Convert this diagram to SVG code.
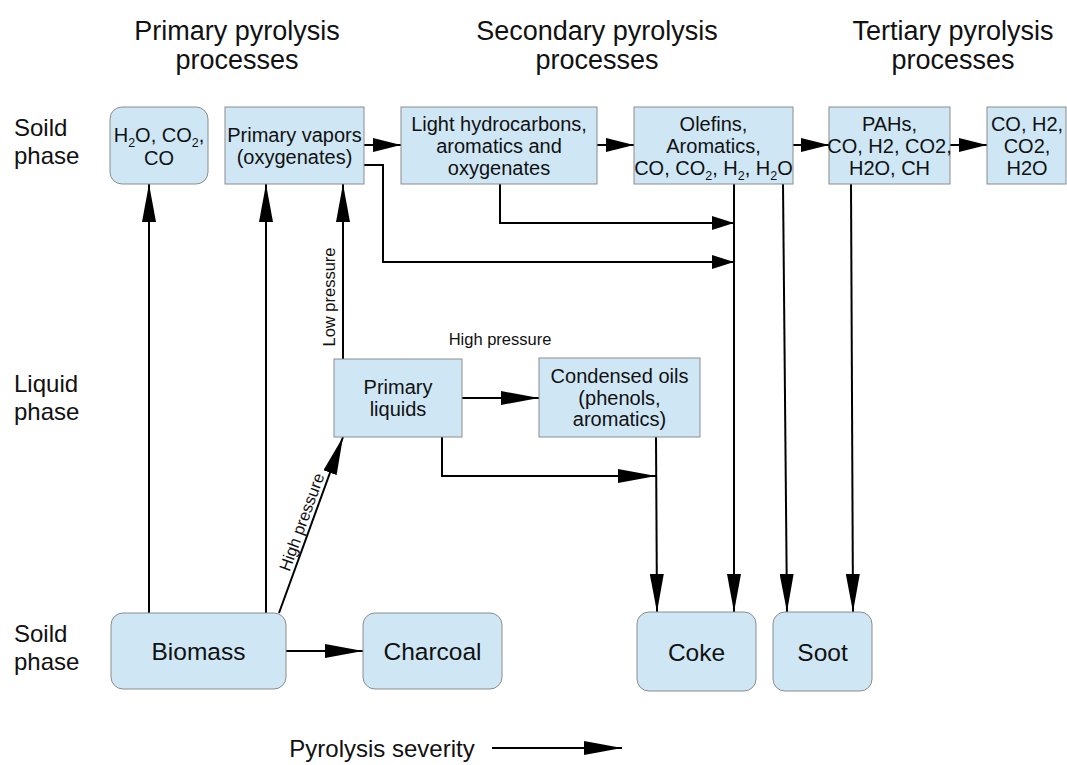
<svg xmlns="http://www.w3.org/2000/svg" width="1067" height="765" viewBox="0 0 1067 765">
<style>
text{font-family:"Liberation Sans",Arial,sans-serif;fill:#111}
.hd{font-size:27px;text-anchor:middle}
.ph{font-size:24px}
.bx{font-size:20px;text-anchor:middle}
.big{font-size:24.5px;text-anchor:middle}
.sm{font-size:16.5px;text-anchor:middle}
.sub{font-size:12.5px}
.n{fill:#cfe7f5;stroke:#8c8c8c;stroke-width:1}
.c{fill:none;stroke:#000;stroke-width:2}
.l{marker-end:url(#ah)}
.m{marker-end:url(#am)}
.s{marker-end:url(#as)}
</style>
<defs>
<marker id="ah" markerUnits="userSpaceOnUse" markerWidth="38" markerHeight="14" viewBox="0 0 38 14" refX="38" refY="7" orient="auto"><path d="M0,0L38,7L0,14z" fill="#000"/></marker>
<marker id="am" markerUnits="userSpaceOnUse" markerWidth="28" markerHeight="14" viewBox="0 0 28 14" refX="28" refY="7" orient="auto"><path d="M0,0L28,7L0,14z" fill="#000"/></marker>
<marker id="as" markerUnits="userSpaceOnUse" markerWidth="22" markerHeight="14" viewBox="0 0 22 14" refX="22" refY="7" orient="auto"><path d="M0,0L22,7L0,14z" fill="#000"/></marker>
</defs>
<rect width="1067" height="765" fill="#fff"/>
<g id="headers">
<text class="hd" x="237" y="40">Primary pyrolysis</text>
<text class="hd" x="237" y="69">processes</text>
<text class="hd" x="597" y="40">Secondary pyrolysis</text>
<text class="hd" x="597" y="69">processes</text>
<text class="hd" x="953" y="40">Tertiary pyrolysis</text>
<text class="hd" x="953" y="69">processes</text>
</g>
<g id="phase-labels">
<text class="ph" x="14" y="136">Soild</text>
<text class="ph" x="14" y="164">phase</text>
<text class="ph" x="14" y="392">Liquid</text>
<text class="ph" x="14" y="420">phase</text>
<text class="ph" x="14" y="642">Soild</text>
<text class="ph" x="14" y="670">phase</text>
</g>
<g id="connectors">
<line class="c l" x1="149" y1="613" x2="149" y2="184"/>
<line class="c l" x1="266" y1="613" x2="266" y2="184"/>
<line class="c l" x1="279" y1="613" x2="343" y2="437"/>
<line class="c l" x1="286" y1="651" x2="363" y2="651"/>
<line class="c l" x1="343" y1="359" x2="343" y2="184"/>
<line class="c l" x1="462" y1="398" x2="539" y2="398"/>
<polyline class="c l" points="442,437 442,476 656,476"/>
<line class="c l" x1="656" y1="437" x2="657" y2="612"/>
<line class="c m" x1="364" y1="145" x2="401" y2="145"/>
<polyline class="c s" points="364,165 383,165 383,262 734,262"/>
<polyline class="c s" points="500,184 500,223 734,223"/>
<line class="c m" x1="597" y1="145" x2="634" y2="145"/>
<line class="c l" x1="734" y1="184" x2="734" y2="612"/>
<line class="c l" x1="783" y1="184" x2="787" y2="612"/>
<line class="c m" x1="793" y1="145" x2="829" y2="145"/>
<line class="c m" x1="950" y1="145" x2="987" y2="145"/>
<line class="c l" x1="851" y1="184" x2="853" y2="612"/>
<line class="c l" x1="492" y1="748" x2="622" y2="748"/>
<text class="sm" x="0" y="0" transform="translate(335,297) rotate(-90)">Low pressure</text>
<text class="sm" x="500" y="345">High pressure</text>
<text class="sm" x="0" y="0" transform="translate(307,524) rotate(-70)">High pressure</text>
</g>
<g id="n-h2o">
<rect class="n" x="110" y="107" width="98" height="77" rx="12"/>
<text class="bx" x="159" y="142">H<tspan class="sub" dy="5">2</tspan><tspan dy="-5">O, CO</tspan><tspan class="sub" dy="5">2</tspan><tspan dy="-5">,</tspan></text>
<text class="bx" x="159" y="165">CO</text>
</g>
<g id="n-primary-vapors">
<rect class="n" x="225" y="107" width="139" height="77"/>
<text class="bx" x="294.5" y="141.5">Primary vapors</text>
<text class="bx" x="294.5" y="163.5">(oxygenates)</text>
</g>
<g id="n-light">
<rect class="n" x="401" y="107" width="196" height="77"/>
<text class="bx" x="499" y="130.5">Light hydrocarbons,</text>
<text class="bx" x="499" y="152.5">aromatics and</text>
<text class="bx" x="499" y="174.5">oxygenates</text>
</g>
<g id="n-olefins">
<rect class="n" x="634" y="107" width="159" height="77"/>
<text class="bx" x="713.5" y="130.5">Olefins,</text>
<text class="bx" x="713.5" y="152.5">Aromatics,</text>
<text class="bx" x="713.5" y="174.5">CO, CO<tspan class="sub" dy="5">2</tspan><tspan dy="-5">, H</tspan><tspan class="sub" dy="5">2</tspan><tspan dy="-5">, H</tspan><tspan class="sub" dy="5">2</tspan><tspan dy="-5">O</tspan></text>
</g>
<g id="n-pahs">
<rect class="n" x="829" y="107" width="121" height="77"/>
<text class="bx" x="889.5" y="130.5">PAHs,</text>
<text class="bx" x="889.5" y="152.5">CO, H2, CO2,</text>
<text class="bx" x="889.5" y="174.5">H2O, CH</text>
</g>
<g id="n-gases">
<rect class="n" x="987" y="107" width="79" height="77"/>
<text class="bx" x="1027" y="130.5">CO, H2,</text>
<text class="bx" x="1027" y="152.5">CO2,</text>
<text class="bx" x="1027" y="174.5">H2O</text>
</g>
<g id="n-primary-liquids">
<rect class="n" x="334" y="359" width="128" height="78"/>
<text class="bx" x="398" y="394">Primary</text>
<text class="bx" x="398" y="416">liquids</text>
</g>
<g id="n-condensed">
<rect class="n" x="539" y="358" width="161" height="79"/>
<text class="bx" x="619.5" y="383">Condensed oils</text>
<text class="bx" x="619.5" y="404.5">(phenols,</text>
<text class="bx" x="619.5" y="426">aromatics)</text>
</g>
<g id="n-biomass">
<rect class="n" x="111" y="613" width="175" height="76" rx="12"/>
<text class="big" x="198.5" y="660">Biomass</text>
</g>
<g id="n-charcoal">
<rect class="n" x="363" y="613" width="139" height="76" rx="12"/>
<text class="big" x="432.5" y="660">Charcoal</text>
</g>
<g id="n-coke">
<rect class="n" x="637" y="612" width="119" height="79" rx="12"/>
<text class="big" x="696.5" y="660.5">Coke</text>
</g>
<g id="n-soot">
<rect class="n" x="773" y="612" width="99" height="79" rx="12"/>
<text class="big" x="822.5" y="660.5">Soot</text>
</g>
<g id="footer">
<text class="big" x="382" y="757" style="font-size:24px">Pyrolysis severity</text>
</g>
</svg>
